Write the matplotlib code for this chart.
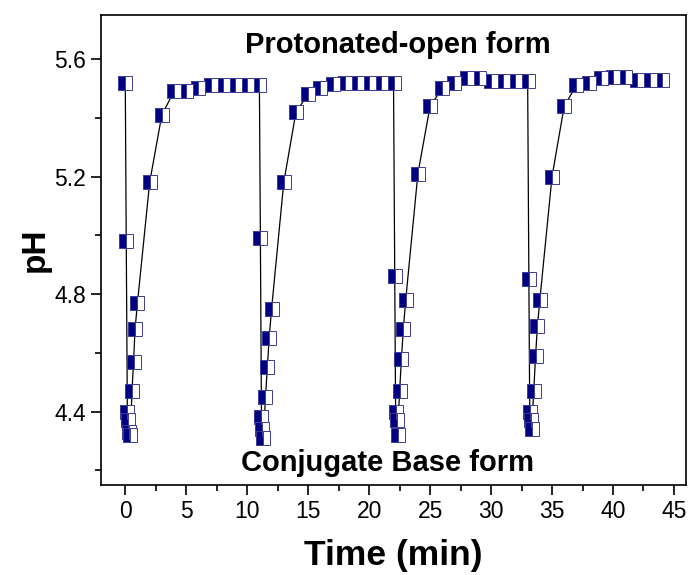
import matplotlib.pyplot as plt
from matplotlib.ticker import MultipleLocator

# время (мин) и pH, четыре цикла по 11 минут
time_min = [0, 0.08, 0.17, 0.25, 0.33, 0.42, 0.55, 0.68, 0.8, 1.0, 2, 3, 4, 5, 6, 7, 8, 9, 10, 11,
            11.08, 11.17, 11.25, 11.33, 11.5, 11.65, 11.8, 12.0, 13, 14, 15, 16, 17, 18, 19, 20, 21, 22,
            22.1, 22.17, 22.25, 22.33, 22.5, 22.65, 22.8, 23.0, 24, 25, 26, 27, 28, 29, 30, 31, 32, 33,
            33.1, 33.17, 33.25, 33.33, 33.5, 33.65, 33.8, 34.0, 35, 36, 37, 38, 39, 40, 41, 42, 43, 44]
ph = [5.52, 4.98, 4.40, 4.37, 4.33, 4.32, 4.47, 4.57, 4.68, 4.77, 5.18, 5.41, 5.49, 5.49, 5.50, 5.51, 5.51, 5.51, 5.51, 5.51,
      4.99, 4.38, 4.34, 4.31, 4.45, 4.55, 4.65, 4.75, 5.18, 5.42, 5.48, 5.50, 5.515, 5.52, 5.52, 5.52, 5.52, 5.52,
      4.86, 4.40, 4.37, 4.32, 4.47, 4.58, 4.68, 4.78, 5.21, 5.44, 5.50, 5.52, 5.535, 5.535, 5.525, 5.525, 5.525, 5.525,
      4.85, 4.40, 4.37, 4.34, 4.47, 4.59, 4.69, 4.78, 5.20, 5.44, 5.51, 5.52, 5.535, 5.54, 5.54, 5.53, 5.53, 5.53]

x_ticks = [0, 5, 10, 15, 20, 25, 30, 35, 40, 45]
y_ticks = [4.4, 4.8, 5.2, 5.6]

plt.rcParams['font.family'] = ['Liberation Sans', 'DejaVu Sans']

fig = plt.figure(figsize=(6.91, 5.75), dpi=100)
ax = fig.add_axes([0.146, 0.1565, 0.847, 0.8175])

ax.plot(time_min, ph, '-', color='black', lw=0.9,
        marker='s', markersize=9.5, fillstyle='left',
        markerfacecolor='#000080', markerfacecoloralt='white',
        markeredgecolor='#3c3c96', markeredgewidth=0.7)

ax.set_xlim(-2, 46)
ax.set_ylim(4.15, 5.75)
ax.set_xticks(x_ticks)
ax.set_yticks(y_ticks)
ax.xaxis.set_minor_locator(MultipleLocator(2.5))
ax.yaxis.set_minor_locator(MultipleLocator(0.2))
ax.tick_params(which='major', direction='out', length=7, width=1.2, labelsize=16.5)
ax.tick_params(which='minor', direction='out', length=4, width=1.2)
for s in ax.spines.values():
    s.set_linewidth(1.2)

ax.set_xlabel('Time (min)', fontsize=25.5, fontweight='bold', labelpad=12)
ax.set_ylabel('pH', fontsize=24, fontweight='bold', labelpad=3)

ax.text(0.508, 0.936, 'Protonated-open form', transform=ax.transAxes,
        ha='center', va='center', fontsize=21, fontweight='bold')
ax.text(0.49, 0.047, 'Conjugate Base form', transform=ax.transAxes,
        ha='center', va='center', fontsize=21, fontweight='bold')

fig.savefig('out.png', dpi=100)
